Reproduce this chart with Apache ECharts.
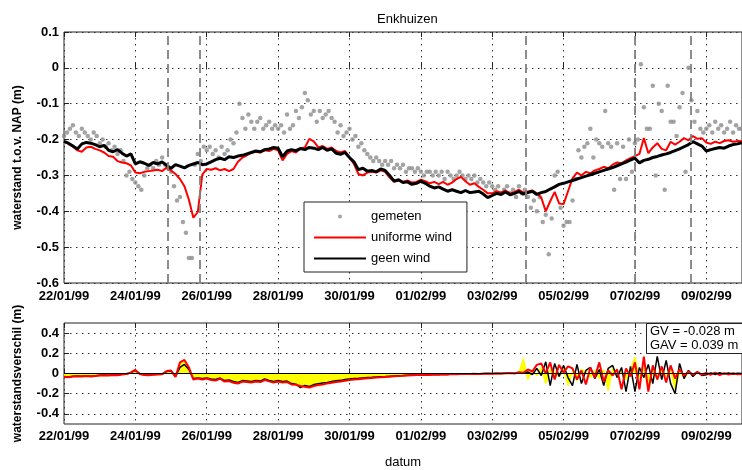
<!DOCTYPE html>
<html>
<head>
<meta charset="utf-8">
<title>Enkhuizen</title>
<script src="https://cdn.jsdelivr.net/npm/echarts@6/dist/echarts.min.js"></script>
<style>
  html, body { margin: 0; padding: 0; background: #fff; }
  #chart { width: 742px; height: 470px; }
</style>
</head>
<body>
<div id="chart"></div>
<script>
// tijd in dagen vanaf 22/01/99 00:00
var STAP = 0.125;          // modelreeksen: 3 uur
var STAP_METING = 1 / 12;  // metingen: 2 uur

var datumLabels = ['22/01/99', '24/01/99', '26/01/99', '28/01/99', '30/01/99',
  '01/02/99', '03/02/99', '05/02/99', '07/02/99', '09/02/99'];

// verticale streeplijnen (dagen vanaf 22/01/99)
var stormMomenten = [2.92, 3.80, 12.94, 15.99, 17.57];

var gemeten = [
  -0.19, -0.18, -0.17, -0.16, -0.18, -0.19, -0.17, -0.18, -0.19, -0.20, -0.18, -0.19,
  -0.21, -0.20, -0.22, -0.21, -0.23, -0.22, -0.24, -0.23, -0.26, -0.30, -0.29, -0.31,
  -0.32, -0.33, -0.34, -0.30, -0.28, -0.27, -0.28, -0.26, -0.27, -0.25, -0.27, -0.28,
  -0.29, -0.33, -0.37, -0.36, -0.43, -0.46, -0.53, -0.53, -0.27, -0.24, -0.26, -0.22,
  -0.23, -0.22, -0.24, -0.23, -0.25, -0.22, -0.24, -0.23, -0.20, -0.21, -0.18, -0.10,
  -0.14, -0.17, -0.13, -0.15, -0.17, -0.15, -0.14, -0.17, -0.16, -0.15, -0.17, -0.16,
  -0.17, -0.16, -0.18, -0.13, -0.17, -0.16, -0.12, -0.14, -0.11, -0.07, -0.09, -0.13,
  -0.12, -0.15, -0.12, -0.14, -0.13, -0.12, -0.14, -0.15, -0.18, -0.16, -0.19, -0.18,
  -0.17, -0.20, -0.19, -0.22, -0.21, -0.23, -0.24, -0.25, -0.26, -0.25, -0.26, -0.27,
  -0.26, -0.27, -0.26, -0.28, -0.27, -0.28, -0.27, -0.29, -0.28, -0.28, -0.29, -0.28,
  -0.29, -0.30, -0.29, -0.29, -0.30, -0.29, -0.30, -0.29, -0.31, -0.29, -0.30, -0.31,
  -0.30, -0.29, -0.30, -0.31, -0.30, -0.31, -0.30, -0.32, -0.31, -0.32, -0.33, -0.32,
  -0.33, -0.34, -0.33, -0.35, -0.34, -0.33, -0.35, -0.34, -0.36, -0.33, -0.35, -0.34,
  -0.36, -0.39, -0.37, -0.40, -0.36, -0.43, -0.41, -0.52, -0.42, -0.30, -0.29, -0.39,
  -0.44, -0.43, -0.43, -0.37, -0.31, -0.23, -0.25, -0.22, -0.21, -0.17, -0.25, -0.20,
  -0.21, -0.22, -0.12, -0.21, -0.22, -0.34, -0.21, -0.31, -0.22, -0.31, -0.20, -0.29,
  -0.21, -0.20, 0.01, -0.11, -0.17, -0.17, -0.05, -0.30, -0.10, -0.12, -0.34, -0.05,
  -0.15, -0.15, -0.19, -0.11, -0.07, -0.29, 0.00, -0.09, -0.15, -0.12, -0.17, -0.18,
  -0.17, -0.16, -0.18, -0.15, -0.17, -0.16, -0.18, -0.17, -0.15, -0.18, -0.16, -0.17,
  -0.17
];

var uniformeWind = [
  -0.206, -0.212, -0.220, -0.230, -0.234, -0.222, -0.220, -0.226,
  -0.230, -0.236, -0.246, -0.248, -0.260, -0.264, -0.266, -0.272,
  -0.292, -0.294, -0.290, -0.288, -0.286, -0.284, -0.288, -0.278,
  -0.286, -0.296, -0.310, -0.330, -0.368, -0.418, -0.402, -0.298,
  -0.282, -0.284, -0.280, -0.286, -0.282, -0.288, -0.282, -0.262,
  -0.250, -0.244, -0.236, -0.234, -0.236, -0.230, -0.232, -0.226,
  -0.230, -0.258, -0.240, -0.232, -0.236, -0.224, -0.222, -0.198,
  -0.205, -0.222, -0.218, -0.226, -0.222, -0.232, -0.236, -0.232,
  -0.250, -0.268, -0.296, -0.300, -0.292, -0.290, -0.292, -0.286,
  -0.290, -0.306, -0.318, -0.314, -0.318, -0.314, -0.320, -0.318,
  -0.312, -0.316, -0.322, -0.318, -0.324, -0.318, -0.326, -0.320,
  -0.310, -0.304, -0.316, -0.326, -0.322, -0.332, -0.340, -0.350,
  -0.350, -0.344, -0.348, -0.342, -0.350, -0.346, -0.340, -0.348,
  -0.345, -0.342, -0.350, -0.362, -0.400, -0.372, -0.346, -0.378,
  -0.380, -0.344, -0.308, -0.292, -0.300, -0.290, -0.294, -0.286,
  -0.282, -0.276, -0.280, -0.270, -0.264, -0.266, -0.258, -0.252,
  -0.246, -0.240, -0.196, -0.238, -0.222, -0.210, -0.226, -0.230,
  -0.206, -0.214, -0.206, -0.196, -0.202, -0.190, -0.198, -0.196,
  -0.208, -0.212, -0.206, -0.210, -0.204, -0.202, -0.206, -0.204,
  -0.205
];

var geenWind = [
  -0.205, -0.210, -0.218, -0.226, -0.212, -0.208, -0.210, -0.214,
  -0.220, -0.216, -0.230, -0.234, -0.228, -0.238, -0.246, -0.240,
  -0.268, -0.262, -0.266, -0.272, -0.264, -0.268, -0.262, -0.272,
  -0.280, -0.270, -0.274, -0.279, -0.272, -0.268, -0.264, -0.270,
  -0.268, -0.262, -0.256, -0.252, -0.256, -0.248, -0.250, -0.246,
  -0.244, -0.240, -0.236, -0.232, -0.234, -0.228, -0.226, -0.222,
  -0.224, -0.248, -0.232, -0.228, -0.231, -0.225, -0.228, -0.222,
  -0.224, -0.228, -0.222, -0.230, -0.226, -0.238, -0.241, -0.236,
  -0.250, -0.262, -0.284, -0.280, -0.288, -0.286, -0.290, -0.282,
  -0.286, -0.300, -0.316, -0.312, -0.320, -0.318, -0.325, -0.322,
  -0.316, -0.322, -0.330, -0.335, -0.332, -0.338, -0.344, -0.340,
  -0.344, -0.348, -0.342, -0.348, -0.346, -0.344, -0.352, -0.362,
  -0.356, -0.350, -0.353, -0.346, -0.354, -0.350, -0.345, -0.352,
  -0.348, -0.344, -0.353, -0.348, -0.345, -0.338, -0.332, -0.325,
  -0.322, -0.318, -0.314, -0.310, -0.306, -0.302, -0.298, -0.294,
  -0.290, -0.286, -0.282, -0.278, -0.273, -0.268, -0.263, -0.257,
  -0.252, -0.265, -0.258, -0.255, -0.250, -0.247, -0.243, -0.240,
  -0.236, -0.231, -0.226, -0.220, -0.214, -0.206, -0.212, -0.218,
  -0.232, -0.228, -0.225, -0.222, -0.224, -0.218, -0.214, -0.212,
  -0.209
];

// onderste paneel: waterstandsverschil
var verschilGeel = [
  -0.032, -0.036, -0.029, -0.026, -0.029, -0.024, -0.028, -0.024,
  -0.019, -0.017, -0.019, -0.014, -0.016, -0.009, -0.005, 0.009,
  0.032, -0.005, -0.013, -0.016, -0.011, -0.009, -0.007, 0.022,
  0.028, -0.032, 0.090, 0.125, 0.055, -0.055, -0.048, -0.055,
  -0.048, -0.060, -0.066, -0.048, -0.076, -0.070, -0.088, -0.096,
  -0.076, -0.080, -0.086, -0.076, -0.080, -0.060, -0.074, -0.086,
  -0.076, -0.086, -0.080, -0.104, -0.110, -0.135, -0.125, -0.135,
  -0.118, -0.110, -0.102, -0.094, -0.086, -0.080, -0.075, -0.066,
  -0.060, -0.056, -0.053, -0.048, -0.044, -0.042, -0.037, -0.035,
  -0.032, -0.030, -0.026, -0.024, -0.021, -0.018, -0.016, -0.015,
  -0.014, -0.011, -0.013, -0.009, -0.011, -0.008, -0.009, -0.006,
  -0.007, -0.005, -0.005, -0.003, -0.003, -0.004, -0.002, 0.000,
  -0.001, 0.001, 0.000, 0.002, 0.004, 0.002, 0.008, 0.150,
  -0.060, 0.040, -0.020, 0.060, -0.100, 0.040, 0.020, -0.030,
  0.050, -0.120, 0.020, -0.070, 0.040, 0.020, -0.040, 0.030,
  -0.050, 0.040, -0.170, 0.060, -0.020, 0.030, -0.060, 0.040,
  0.160, -0.050, 0.060, -0.160, 0.020, -0.040, 0.050, -0.020,
  0.030, -0.160, 0.020, -0.040, 0.010, -0.010, 0.008, -0.006,
  0.004, -0.008, 0.005, -0.006, 0.003, -0.005, 0.002, -0.004,
  -0.002
];

var verschilGeen = [
  -0.030, -0.034, -0.028, -0.024, -0.028, -0.022, -0.027, -0.022,
  -0.018, -0.016, -0.018, -0.013, -0.015, -0.008, -0.004, 0.008,
  0.030, -0.004, -0.012, -0.015, -0.010, -0.008, -0.006, 0.020,
  0.025, -0.030, 0.060, 0.090, 0.040, -0.050, -0.045, -0.050,
  -0.045, -0.055, -0.060, -0.045, -0.070, -0.065, -0.080, -0.088,
  -0.070, -0.075, -0.080, -0.070, -0.075, -0.055, -0.068, -0.080,
  -0.070, -0.080, -0.075, -0.100, -0.106, -0.140, -0.118, -0.128,
  -0.110, -0.102, -0.095, -0.088, -0.080, -0.072, -0.068, -0.060,
  -0.055, -0.050, -0.048, -0.044, -0.040, -0.038, -0.034, -0.032,
  -0.030, -0.027, -0.024, -0.022, -0.020, -0.017, -0.015, -0.014,
  -0.013, -0.010, -0.012, -0.008, -0.010, -0.007, -0.009, -0.005,
  -0.007, -0.004, -0.005, -0.003, -0.002, -0.004, -0.001, 0.000,
  -0.001, 0.001, 0.000, 0.002, 0.004, 0.001, 0.006, 0.004,
  0.015, -0.010, 0.050, -0.020, 0.116, -0.120, 0.100, -0.030,
  0.080, -0.040, -0.120, 0.090, -0.100, 0.030, 0.060, -0.050,
  0.040, -0.120, 0.050, 0.080, -0.040, 0.060, -0.180, 0.070,
  -0.180, 0.060, -0.040, 0.090, -0.100, 0.170, -0.060, 0.130,
  -0.100, -0.200, 0.100, -0.050, 0.030, -0.030, 0.015, -0.020,
  -0.012, 0.006, -0.010, 0.008, -0.006, 0.004, -0.008, 0.003,
  0.000
];

var verschilUniform = [
  -0.035, -0.038, -0.030, -0.027, -0.030, -0.025, -0.030, -0.025,
  -0.020, -0.018, -0.020, -0.015, -0.017, -0.010, -0.005, 0.010,
  0.035, -0.005, -0.015, -0.018, -0.012, -0.010, -0.008, 0.025,
  0.030, -0.035, 0.110, 0.134, 0.060, -0.060, -0.050, -0.060,
  -0.050, -0.065, -0.070, -0.050, -0.080, -0.075, -0.092, -0.100,
  -0.080, -0.085, -0.090, -0.080, -0.085, -0.065, -0.078, -0.090,
  -0.080, -0.090, -0.085, -0.108, -0.112, -0.124, -0.132, -0.140,
  -0.124, -0.115, -0.108, -0.098, -0.092, -0.085, -0.080, -0.072,
  -0.065, -0.060, -0.058, -0.052, -0.048, -0.045, -0.040, -0.038,
  -0.035, -0.032, -0.028, -0.026, -0.022, -0.020, -0.018, -0.016,
  -0.015, -0.012, -0.014, -0.010, -0.012, -0.008, -0.010, -0.006,
  -0.008, -0.005, -0.006, -0.004, -0.003, -0.005, -0.002, 0.000,
  -0.002, 0.002, 0.000, 0.003, 0.005, 0.002, 0.012, 0.008,
  0.040, 0.020, 0.085, 0.100, 0.000, 0.110, -0.060, 0.085,
  0.010, 0.070, 0.050, -0.060, 0.030, -0.108, 0.060, -0.040,
  0.110, -0.080, 0.030, -0.020, 0.040, -0.156, 0.050, -0.030,
  0.110, -0.156, 0.166, -0.180, 0.080, -0.060, 0.070, -0.090,
  0.080, -0.050, 0.040, -0.020, 0.020, -0.010, 0.015, -0.010,
  0.005, -0.012, 0.008, -0.015, 0.004, -0.010, 0.002, -0.008,
  -0.005
];

var statistiek = ['GV = -0.028 m', 'GAV = 0.039 m'];

function metTijd(reeks, stap) {
  return reeks.map(function (v, i) { return [i * stap, v]; });
}

var FONT = 'Liberation Sans, Arial, Helvetica, sans-serif';
var rasterLijn = { show: true, lineStyle: { color: '#333', type: [1.5, 4.5], width: 1 } };
var tikInnen = { show: true, inside: true, length: 5, lineStyle: { color: '#222' } };
var lijnIcoon = 'path://M0,0H52V2H0Z';

function datumAs(grid, onder, naam) {
  return {
    type: 'value', gridIndex: grid, min: 0, max: 19, interval: 2,
    position: onder ? 'bottom' : 'top',
    name: naam || '', nameLocation: 'middle', nameGap: 32,
    nameTextStyle: { fontSize: 13, color: '#000', fontFamily: FONT },
    axisLine: { show: false },
    axisTick: tikInnen,
    axisLabel: {
      show: onder, margin: grid === 0 ? 7 : 6, fontSize: 13, fontWeight: 'bold', color: '#000',
      fontFamily: FONT, showMaxLabel: false,
      formatter: function (v) { return datumLabels[v / 2] || ''; }
    },
    splitLine: onder ? rasterLijn : { show: false }
  };
}

function initEnkhuizen() {
  var myChart = echarts.init(document.getElementById('chart'));
  var options = {
    animation: false,
    textStyle: { fontFamily: FONT },
    title: [
      { text: 'Enkhuizen', left: 372, top: 8,
        textStyle: { fontSize: 13, fontWeight: 'normal', color: '#000', fontFamily: FONT } },
      { text: statistiek.join('\n'), left: 646, top: 323,
        backgroundColor: '#fff', borderColor: '#222', borderWidth: 1, padding: [1, 30, 1, 4],
        textStyle: { fontSize: 13, fontWeight: 'normal', color: '#000', lineHeight: 14.5, fontFamily: FONT } }
    ],
    legend: {
      orient: 'vertical', left: 304, top: 202,
      backgroundColor: '#fff', borderColor: '#222', borderWidth: 1,
      padding: [8, 15, 7, 10], itemWidth: 52, itemHeight: 4, itemGap: 8,
      selectedMode: false,
      textStyle: { fontSize: 13, color: '#000', fontFamily: FONT },
      data: [
        { name: 'gemeten', icon: 'circle' },
        { name: 'uniforme wind', icon: lijnIcoon },
        { name: 'geen wind', icon: lijnIcoon }
      ]
    },
    grid: [
      { left: 64, top: 32, width: 679, height: 251, show: true, borderColor: '#222', borderWidth: 1 },
      { left: 64, top: 323, width: 679, height: 104.5, show: true, borderColor: '#222', borderWidth: 1 }
    ],
    xAxis: [
      datumAs(0, true),
      datumAs(0, false),
      datumAs(1, true, 'datum'),
      datumAs(1, false)
    ],
    yAxis: [
      {
        type: 'value', gridIndex: 0, min: -0.6, max: 0.1, interval: 0.1,
        name: 'waterstand t.o.v. NAP (m)', nameLocation: 'middle', nameGap: 40, nameRotate: 90,
        nameTextStyle: { fontSize: 12, fontWeight: 'bold', color: '#000', fontFamily: FONT },
        axisLine: { show: false }, axisTick: tikInnen,
        axisLabel: { fontSize: 13, fontWeight: 'bold', color: '#000', margin: 5, fontFamily: FONT },
        splitLine: rasterLijn
      },
      {
        type: 'value', gridIndex: 1, min: -0.5, max: 0.5,
        name: 'waterstandsverschil (m)', nameLocation: 'middle', nameGap: 40, nameRotate: 90,
        nameTextStyle: { fontSize: 12, fontWeight: 'bold', color: '#000', fontFamily: FONT },
        axisLine: { show: false },
        axisTick: { show: true, inside: true, length: 5, lineStyle: { color: '#222' },
          customValues: [-0.4, -0.2, 0, 0.2, 0.4] },
        axisLabel: { fontSize: 13, fontWeight: 'bold', color: '#000', margin: 5, fontFamily: FONT,
          customValues: [-0.4, -0.2, 0, 0.2, 0.4] },
        splitLine: rasterLijn
      }
    ],
    series: [
      {
        name: 'gemeten', type: 'scatter', xAxisIndex: 0, yAxisIndex: 0,
        data: metTijd(gemeten, STAP_METING), symbol: 'circle', symbolSize: 4.5,
        itemStyle: { color: '#8c8c8c' }, z: 2,
        markLine: {
          silent: true, symbol: ['none', 'none'], label: { show: false },
          lineStyle: { color: '#808080', width: 1.8, type: [9, 5] },
          data: stormMomenten.map(function (d) { return { xAxis: d }; })
        }
      },
      {
        name: 'uniforme wind', type: 'line', xAxisIndex: 0, yAxisIndex: 0,
        data: metTijd(uniformeWind, STAP), symbol: 'none',
        lineStyle: { color: '#ff0000', width: 2 }, itemStyle: { color: '#ff0000' }, z: 3
      },
      {
        name: 'geen wind', type: 'line', xAxisIndex: 0, yAxisIndex: 0,
        data: metTijd(geenWind, STAP), symbol: 'none',
        lineStyle: { color: '#000', width: 3 }, itemStyle: { color: '#000' }, z: 4
      },
      {
        name: 'verschil', type: 'line', xAxisIndex: 2, yAxisIndex: 1,
        data: metTijd(verschilGeel, STAP), symbol: 'none',
        lineStyle: { color: '#ffff00', width: 1.5 }, areaStyle: { color: '#ffff00', opacity: 1 }, z: 2,
        markLine: {
          silent: true, symbol: ['none', 'none'], label: { show: false },
          lineStyle: { color: '#000', width: 1, type: 'solid' },
          data: [{ yAxis: 0 }]
        }
      },
      {
        name: 'verschil geen wind', type: 'line', xAxisIndex: 2, yAxisIndex: 1,
        data: metTijd(verschilGeen, STAP), symbol: 'none',
        lineStyle: { color: '#000', width: 1.5 }, z: 3
      },
      {
        name: 'verschil uniforme wind', type: 'line', xAxisIndex: 2, yAxisIndex: 1,
        data: metTijd(verschilUniform, STAP), symbol: 'none',
        lineStyle: { color: '#ff0000', width: 2 }, z: 4
      }
    ]
  };
  myChart.setOption(options);
}

document.addEventListener('DOMContentLoaded', function () {
  initEnkhuizen();
});
</script>
</body>
</html>
